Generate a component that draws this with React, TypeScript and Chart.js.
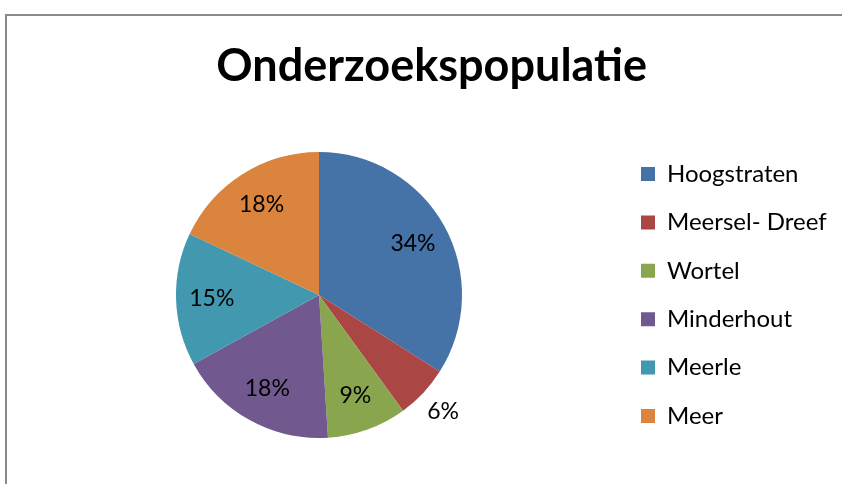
import React, { useEffect, useRef } from "react";
import { Chart, registerables } from "chart.js";

Chart.register(...registerables);

const TITLE = "Onderzoekspopulatie";
const categories = ["Hoogstraten", "Meersel- Dreef", "Wortel", "Minderhout", "Meerle", "Meer"];
const values = [34, 6, 9, 18, 15, 18];
const colors = ["#4572A7", "#AA4643", "#89A54E", "#71588F", "#4198AF", "#DB843D"];

const FONT = "Lato, 'Open Sans', sans-serif";
const LEGEND_W = 225.4;

const labelPlugin = {
  id: "pctLabels",
  afterDatasetsDraw(chart: any) {
    const ctx = chart.ctx;
    const meta = chart.getDatasetMeta(0);
    const data = chart.data.datasets[0].data as number[];
    const total = data.reduce((a: number, b: number) => a + b, 0);
    ctx.save();
    ctx.font = `23px ${FONT}`;
    ctx.fillStyle = "#000";
    ctx.textAlign = "center";
    ctx.textBaseline = "middle";
    meta.data.forEach((arc: any, i: number) => {
      const { x, y, startAngle, endAngle, outerRadius } = arc.getProps(
        ["x", "y", "startAngle", "endAngle", "outerRadius"],
        true
      );
      const pct = Math.round((data[i] / total) * 100);
      const mid = (startAngle + endAngle) / 2;
      const r = outerRadius * (pct < 8 ? 1.19 : 0.75);
      ctx.fillText(pct + "%", x + Math.cos(mid) * r, y + Math.sin(mid) * r);
    });
    ctx.restore();
  },
};

const legendWidthPlugin = {
  id: "legendWidth",
  beforeUpdate(chart: any) {
    const lg = chart.legend;
    if (lg && !lg.__patched) {
      const orig = lg.fit;
      lg.fit = function () {
        orig.call(this);
        this.width = LEGEND_W;
      };
      lg.__patched = true;
    }
  },
};

export default function App() {
  const ref = useRef<HTMLCanvasElement | null>(null);
  useEffect(() => {
    if (!ref.current) return;
    const chart = new Chart(ref.current, {
      type: "pie",
      data: {
        labels: categories,
        datasets: [
          {
            data: values,
            backgroundColor: colors,
            borderWidth: 0,
            radius: 143,
          },
        ],
      },
      options: {
        animation: false,
        responsive: false,
        maintainAspectRatio: false,
        layout: { padding: { left: 21.4, right: 0, top: 0, bottom: 28 } },
        plugins: {
          title: {
            display: true,
            text: TITLE,
            color: "#000",
            font: { family: FONT, size: 45, weight: "bold", lineHeight: 1.2 },
            padding: { top: 39, bottom: 41 },
          },
          legend: {
            display: true,
            position: "right",
            align: "center",
            fullSize: false,
            labels: {
              boxWidth: 14,
              boxHeight: 14,
              padding: 24.4,
              color: "#000",
              font: { family: FONT, size: 24 },
            },
          },
          tooltip: { enabled: false },
        },
      },
      plugins: [labelPlugin, legendWidthPlugin],
    });
    return () => chart.destroy();
  }, []);

  return (
    <div style={{ position: "fixed", left: 0, top: 0, width: 842, height: 484, background: "#fff", overflow: "hidden" }}>
      <div
        style={{
          position: "absolute",
          left: 5,
          top: 14,
          width: 900,
          height: 500,
          borderLeft: "2px solid #8a8a8a",
          borderTop: "2px solid #8a8a8a",
        }}
      />
      <canvas ref={ref} width={842} height={484} style={{ position: "absolute", left: 0, top: 0, width: 842, height: 484 }} />
    </div>
  );
}
